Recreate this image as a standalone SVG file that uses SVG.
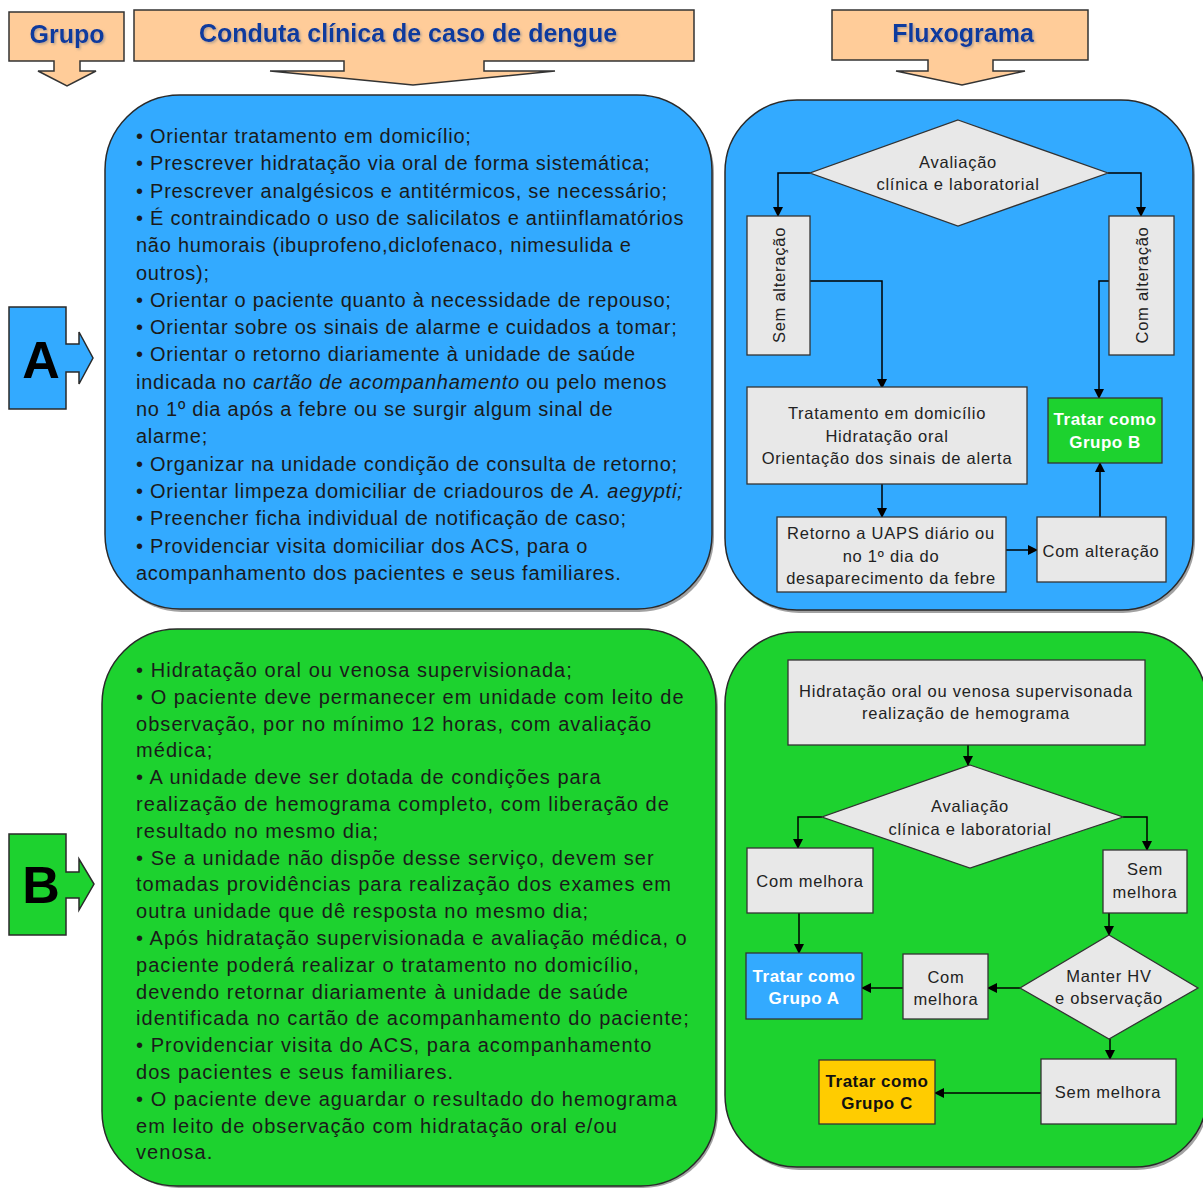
<svg xmlns="http://www.w3.org/2000/svg" width="1203" height="1188" viewBox="0 0 1203 1188">
<defs>
<style>
.hdr{fill:#FFCC99;stroke:#333;stroke-width:1.5}
.htxt{font-family:"Liberation Sans",Arial,sans-serif;font-weight:bold;font-size:25px;fill:#0A3A9E;text-anchor:middle}
.big{font-family:"Liberation Sans",Arial,sans-serif;font-weight:bold;font-size:52px;fill:#000;text-anchor:middle}
.panelA{fill:#33AAFF;stroke:#2a2a2a;stroke-width:1.5}
.panelB{fill:#1DD22F;stroke:#2a2a2a;stroke-width:1.5}
.shadow{fill:#555;opacity:0.55}
.body{font-family:"Liberation Sans",Arial,sans-serif;font-size:20px;fill:#1a1a1a;letter-spacing:0.75px}
.bodyB{letter-spacing:1.05px}
.node{fill:#E8E8E8;stroke:#333;stroke-width:1.3}
.ntxt{font-family:"Liberation Sans",Arial,sans-serif;font-size:16.5px;fill:#222;text-anchor:middle;letter-spacing:0.75px}
.btxt{font-family:"Liberation Sans",Arial,sans-serif;font-size:17px;font-weight:bold;text-anchor:middle;letter-spacing:0.5px}
.conn{fill:none;stroke:#000;stroke-width:1.5;marker-end:url(#ah)}
</style>
<marker id="ah" markerWidth="10" markerHeight="10" refX="9" refY="5" orient="auto" markerUnits="userSpaceOnUse">
<path d="M0,0 L10,5 L0,10 Z" fill="#000"/>
</marker>
<filter id="ts" x="-5%" y="-20%" width="110%" height="140%">
<feDropShadow dx="1.5" dy="1.5" stdDeviation="0.8" flood-color="#888" flood-opacity="0.6"/>
</filter>
</defs>

<!-- Headers -->
<g id="hdr-grupo">
<path class="hdr" d="M9,12 H124 V61 H80 V71 H96 L67,86 L38,71 H54 V61 H9 Z"/>
<text class="htxt" x="67" y="43" filter="url(#ts)">Grupo</text>
</g>
<g id="hdr-conduta">
<path class="hdr" d="M134,10 H694 V61 H484 V71 H555 L413,85 L270,71 H344 V61 H134 Z"/>
<text class="htxt" x="408" y="42" filter="url(#ts)">Conduta clínica de caso de dengue</text>
</g>
<g id="hdr-fluxograma">
<path class="hdr" d="M832,10 H1088 V60 H993 V71 H1025 L962,85 L896,71 H928 V60 H832 Z"/>
<text class="htxt" x="963" y="42" filter="url(#ts)">Fluxograma</text>
</g>

<!-- Group labels -->
<g id="label-A">
<path class="panelA" d="M9,307 H66 V344 H79 V332 L93,358 L79,384 V372 H66 V409 H9 Z"/>
<text class="big" x="41" y="378">A</text>
</g>
<g id="label-B">
<path class="panelB" d="M9,834 H66 V872 H79 V859 L94,884 L79,910 V898 H66 V935 H9 Z"/>
<text class="big" x="41" y="903">B</text>
</g>

<!-- Panel A text -->
<g id="panel-A-text">
<rect class="shadow" x="107" y="98" width="607" height="514" rx="75"/>
<rect class="panelA" x="105" y="95" width="607" height="514" rx="75"/>
<text class="body">
<tspan x="136" y="143">• Orientar tratamento em domicílio;</tspan>
<tspan x="136" y="170.3">• Prescrever hidratação via oral de forma sistemática;</tspan>
<tspan x="136" y="197.6">• Prescrever analgésicos e antitérmicos, se necessário;</tspan>
<tspan x="136" y="224.9">• É contraindicado o uso de salicilatos e antiinflamatórios</tspan>
<tspan x="136" y="252.2">não humorais (ibuprofeno,diclofenaco, nimesulida e</tspan>
<tspan x="136" y="279.5">outros);</tspan>
<tspan x="136" y="306.8">• Orientar o paciente quanto à necessidade de repouso;</tspan>
<tspan x="136" y="334.1">• Orientar sobre os sinais de alarme e cuidados a tomar;</tspan>
<tspan x="136" y="361.4">• Orientar o retorno diariamente à unidade de saúde</tspan>
<tspan x="136" y="388.7">indicada no <tspan font-style="italic">cartão de acompanhamento</tspan> ou pelo menos</tspan>
<tspan x="136" y="416">no 1º dia após a febre ou se surgir algum sinal de</tspan>
<tspan x="136" y="443.3">alarme;</tspan>
<tspan x="136" y="470.6">• Organizar na unidade condição de consulta de retorno;</tspan>
<tspan x="136" y="497.9">• Orientar limpeza domiciliar de criadouros de <tspan font-style="italic">A. aegypti;</tspan></tspan>
<tspan x="136" y="525.2">• Preencher ficha individual de notificação de caso;</tspan>
<tspan x="136" y="552.5">• Providenciar visita domiciliar dos ACS, para o</tspan>
<tspan x="136" y="579.8">acompanhamento dos pacientes e seus familiares.</tspan>
</text>
</g>

<!-- Panel B text -->
<g id="panel-B-text">
<rect class="shadow" x="104" y="632" width="614" height="556" rx="75"/>
<rect class="panelB" x="102" y="629" width="614" height="557" rx="75"/>
<text class="body bodyB">
<tspan x="136" y="677">• Hidratação oral ou venosa supervisionada;</tspan>
<tspan x="136" y="703.8">• O paciente deve permanecer em unidade com leito de</tspan>
<tspan x="136" y="730.6">observação, por no mínimo 12 horas, com avaliação</tspan>
<tspan x="136" y="757.4">médica;</tspan>
<tspan x="136" y="784.2">• A unidade deve ser dotada de condições para</tspan>
<tspan x="136" y="811">realização de hemograma completo, com liberação de</tspan>
<tspan x="136" y="837.8">resultado no mesmo dia;</tspan>
<tspan x="136" y="864.6">• Se a unidade não dispõe desse serviço, devem ser</tspan>
<tspan x="136" y="891.4">tomadas providências para realização dos exames em</tspan>
<tspan x="136" y="918.2">outra unidade que dê resposta no mesmo dia;</tspan>
<tspan x="136" y="945">• Após hidratação supervisionada e avaliação médica, o</tspan>
<tspan x="136" y="971.8">paciente poderá realizar o tratamento no domicílio,</tspan>
<tspan x="136" y="998.6">devendo retornar diariamente à unidade de saúde</tspan>
<tspan x="136" y="1025.4">identificada no cartão de acompanhamento do paciente;</tspan>
<tspan x="136" y="1052.2">• Providenciar visita do ACS, para acompanhamento</tspan>
<tspan x="136" y="1079">dos pacientes e seus familiares.</tspan>
<tspan x="136" y="1105.8">• O paciente deve aguardar o resultado do hemograma</tspan>
<tspan x="136" y="1132.6">em leito de observação com hidratação oral e/ou</tspan>
<tspan x="136" y="1159.4">venosa.</tspan>
</text>
</g>

<!-- Flowchart panels -->
<g id="panel-A-flow">
<rect class="shadow" x="727" y="103" width="468" height="510" rx="72"/>
<rect class="panelA" x="725" y="100" width="468" height="510" rx="72"/>
</g>
<g id="panel-B-flow">
<rect class="shadow" x="727" y="635" width="482" height="535" rx="72"/>
<rect class="panelB" x="725" y="632" width="482" height="535" rx="72"/>
</g>

<!-- Connectors -->
<g id="connectors">
<path class="conn" d="M810,173 H778 V216"/>
<path class="conn" d="M1108,173 H1141 V216"/>
<path class="conn" d="M810,281 H882 V388"/>
<path class="conn" d="M1109,281 H1099 V398"/>
<path class="conn" d="M882,484 V517"/>
<path class="conn" d="M1006,550 H1037"/>
<path class="conn" d="M1100,517 V463"/>
<path class="conn" d="M968,745 V765"/>
<path class="conn" d="M822,817 H798 V848"/>
<path class="conn" d="M1123,817 H1147 V850"/>
<path class="conn" d="M799,913 V953"/>
<path class="conn" d="M903,988 H862"/>
<path class="conn" d="M1109,913 V935"/>
<path class="conn" d="M1020,988 H988"/>
<path class="conn" d="M1110,1039 V1059"/>
<path class="conn" d="M1041,1093 H935"/>
</g>

<!-- Flow A nodes -->
<g id="a-aval">
<polygon class="node" points="958,120 1108,173 958,226 810,173"/>
<text class="ntxt" x="958" y="168">Avaliação</text>
<text class="ntxt" x="958" y="190">clínica e laboratorial</text>
</g>
<g id="a-sem-alt">
<rect class="node" x="747" y="216" width="63" height="139"/>
<text class="ntxt" transform="translate(785,285) rotate(-90)">Sem alteração</text>
</g>
<g id="a-com-alt">
<rect class="node" x="1109" y="216" width="65" height="139"/>
<text class="ntxt" transform="translate(1148,285) rotate(-90)">Com alteração</text>
</g>
<g id="a-tratamento">
<rect class="node" x="747" y="387" width="280" height="97"/>
<text class="ntxt" x="887" y="419">Tratamento em domicílio</text>
<text class="ntxt" x="887" y="442">Hidratação oral</text>
<text class="ntxt" x="887" y="464">Orientação dos sinais de alerta</text>
</g>
<g id="a-grupoB">
<rect x="1048" y="398" width="114" height="65" fill="#1DD22F" stroke="#333" stroke-width="1.3"/>
<text class="btxt" x="1105" y="425" fill="#fff">Tratar como</text>
<text class="btxt" x="1105" y="448" fill="#fff">Grupo B</text>
</g>
<g id="a-retorno">
<rect class="node" x="777" y="517" width="229" height="75"/>
<text class="ntxt" x="891" y="539">Retorno a UAPS diário ou</text>
<text class="ntxt" x="891" y="562">no 1º dia do</text>
<text class="ntxt" x="891" y="584">desaparecimento da febre</text>
</g>
<g id="a-com-alt2">
<rect class="node" x="1037" y="517" width="129" height="65"/>
<text class="ntxt" x="1101" y="557">Com alteração</text>
</g>

<!-- Flow B nodes -->
<g id="b-hidratacao">
<rect class="node" x="788" y="660" width="357" height="85"/>
<text class="ntxt" x="966" y="697">Hidratação oral ou venosa supervisonada</text>
<text class="ntxt" x="966" y="719">realização de hemograma</text>
</g>
<g id="b-aval">
<polygon class="node" points="970,765 1123,817 970,868 822,817"/>
<text class="ntxt" x="970" y="812">Avaliação</text>
<text class="ntxt" x="970" y="835">clínica e laboratorial</text>
</g>
<g id="b-com-melhora">
<rect class="node" x="747" y="848" width="126" height="65"/>
<text class="ntxt" x="810" y="887">Com melhora</text>
</g>
<g id="b-sem-melhora">
<rect class="node" x="1103" y="850" width="84" height="63"/>
<text class="ntxt" x="1145" y="875">Sem</text>
<text class="ntxt" x="1145" y="898">melhora</text>
</g>
<g id="b-grupoA">
<rect x="746" y="953" width="116" height="66" fill="#33AAFF" stroke="#333" stroke-width="1.3"/>
<text class="btxt" x="804" y="982" fill="#fff">Tratar como</text>
<text class="btxt" x="804" y="1004" fill="#fff">Grupo A</text>
</g>
<g id="b-com-melhora2">
<rect class="node" x="903" y="954" width="85" height="65"/>
<text class="ntxt" x="946" y="983">Com</text>
<text class="ntxt" x="946" y="1005">melhora</text>
</g>
<g id="b-manter">
<polygon class="node" points="1109,935 1198,988 1109,1039 1020,988"/>
<text class="ntxt" x="1109" y="982">Manter HV</text>
<text class="ntxt" x="1109" y="1004">e observação</text>
</g>
<g id="b-sem-melhora2">
<rect class="node" x="1041" y="1059" width="135" height="65"/>
<text class="ntxt" x="1108" y="1098">Sem melhora</text>
</g>
<g id="b-grupoC">
<rect x="819" y="1060" width="116" height="64" fill="#FFCC00" stroke="#333" stroke-width="1.3"/>
<text class="btxt" x="877" y="1087" fill="#111">Tratar como</text>
<text class="btxt" x="877" y="1109" fill="#111">Grupo C</text>
</g>
</svg>
